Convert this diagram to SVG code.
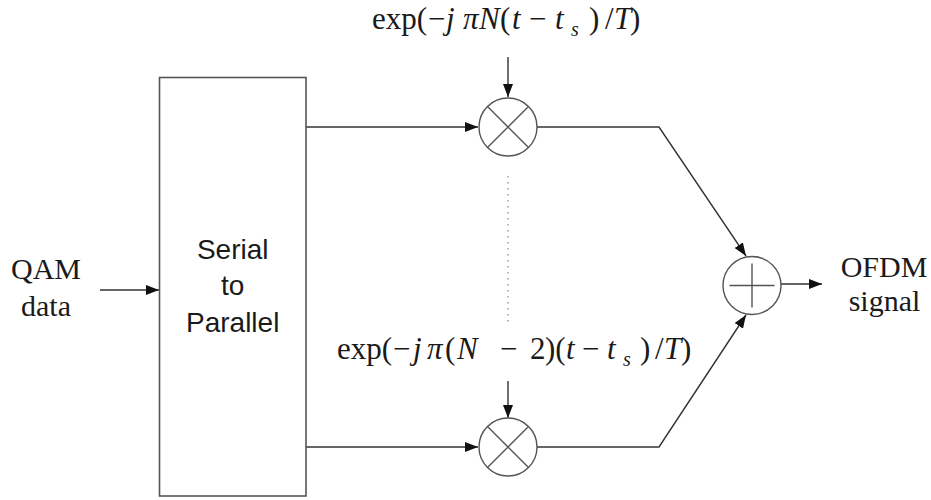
<svg xmlns="http://www.w3.org/2000/svg" width="931" height="500" viewBox="0 0 931 500">
<defs>
<style>
.box{fill:#fff;stroke:#555;stroke-width:1.6}
.ln{fill:none;stroke:#555;stroke-width:1.4}
.arr{fill:none;stroke:#333;stroke-width:1.4;marker-end:url(#ah)}
.t{font-family:"Liberation Serif","Times New Roman",serif;font-size:30px;fill:#1a1a1a}
.s{font-family:"Liberation Sans",Arial,sans-serif;font-size:28px;fill:#1a1a1a}
.m{font-family:"Liberation Serif","Times New Roman",serif;font-size:31px;fill:#1a1a1a}
.it{font-style:italic}
.sub{font-style:italic;font-size:20px}
</style>
<marker id="ah" markerUnits="userSpaceOnUse" markerWidth="14" markerHeight="10" refX="13" refY="5" orient="auto">
<path d="M0,0 L13,5 L0,10 z" fill="#111"/>
</marker>
</defs>
<rect width="931" height="500" fill="#fff"/>
<g id="connectors">
<line class="arr" x1="100" y1="290" x2="159" y2="290"/>
<line class="arr" x1="306" y1="127" x2="478" y2="127"/>
<line class="arr" x1="306" y1="447" x2="478" y2="447"/>
<line class="arr" x1="508" y1="57" x2="508" y2="97"/>
<line class="arr" x1="508" y1="381" x2="508" y2="418"/>
<polyline class="arr" points="537,127 659,127 746,256"/>
<polyline class="arr" points="537,447 659,447 746,315"/>
<line class="arr" x1="781" y1="284" x2="822" y2="284"/>
<line x1="508" y1="176" x2="508" y2="324" stroke="#999" stroke-width="1.4" stroke-dasharray="1.5,4.5"/>
</g>
<g id="input">
<text class="t" x="46" y="279" text-anchor="middle">QAM</text>
<text class="t" x="46" y="316" text-anchor="middle">data</text>
</g>
<g id="s2p">
<rect class="box" x="159.5" y="77.5" width="146.5" height="418.5"/>
<text class="s" x="232.7" y="259" text-anchor="middle">Serial</text>
<text class="s" x="232.7" y="295" text-anchor="middle">to</text>
<text class="s" x="232.7" y="332" text-anchor="middle">Parallel</text>
</g>
<g id="mult1">
<circle class="ln" cx="508" cy="127" r="29"/>
<path class="ln" d="M487.5,106.5 L528.5,147.5 M528.5,106.5 L487.5,147.5"/>
</g>
<g id="mult2">
<circle class="ln" cx="508" cy="447" r="29"/>
<path class="ln" d="M487.5,426.5 L528.5,467.5 M528.5,426.5 L487.5,467.5"/>
</g>
<g id="sum">
<circle class="ln" cx="752" cy="285.5" r="29"/>
<path class="ln" d="M729.5,285.5 L774.5,285.5 M752,263.5 L752,307.5"/>
</g>
<g id="output">
<text class="t" x="884" y="277" text-anchor="middle">OFDM</text>
<text class="t" x="884.5" y="311" text-anchor="middle">signal</text>
</g>
<g id="label-top">
<text class="m" y="29"><tspan x="372">exp(</tspan><tspan x="428">−</tspan><tspan class="it" x="446">j</tspan><tspan class="it" x="463">π</tspan><tspan class="it" x="479">N</tspan><tspan x="500">(</tspan><tspan class="it" x="512">t</tspan><tspan x="529">−</tspan><tspan class="it" x="555">t</tspan><tspan class="sub" x="571" y="36">s</tspan><tspan x="589" y="29">)</tspan><tspan x="605">/</tspan><tspan class="it" x="614">T</tspan><tspan x="630">)</tspan></text>
</g>
<g id="label-bottom">
<text class="m" y="359"><tspan x="337">exp(</tspan><tspan x="393">−</tspan><tspan class="it" x="413">j</tspan><tspan class="it" x="427">π</tspan><tspan x="445">(</tspan><tspan class="it" x="457">N</tspan><tspan x="500">−</tspan><tspan x="530">2</tspan><tspan x="545">)(</tspan><tspan class="it" x="566">t</tspan><tspan x="582">−</tspan><tspan class="it" x="607">t</tspan><tspan class="sub" x="623" y="366">s</tspan><tspan x="640" y="359">)</tspan><tspan x="655">/</tspan><tspan class="it" x="664">T</tspan><tspan x="681">)</tspan></text>
</g>
</svg>
